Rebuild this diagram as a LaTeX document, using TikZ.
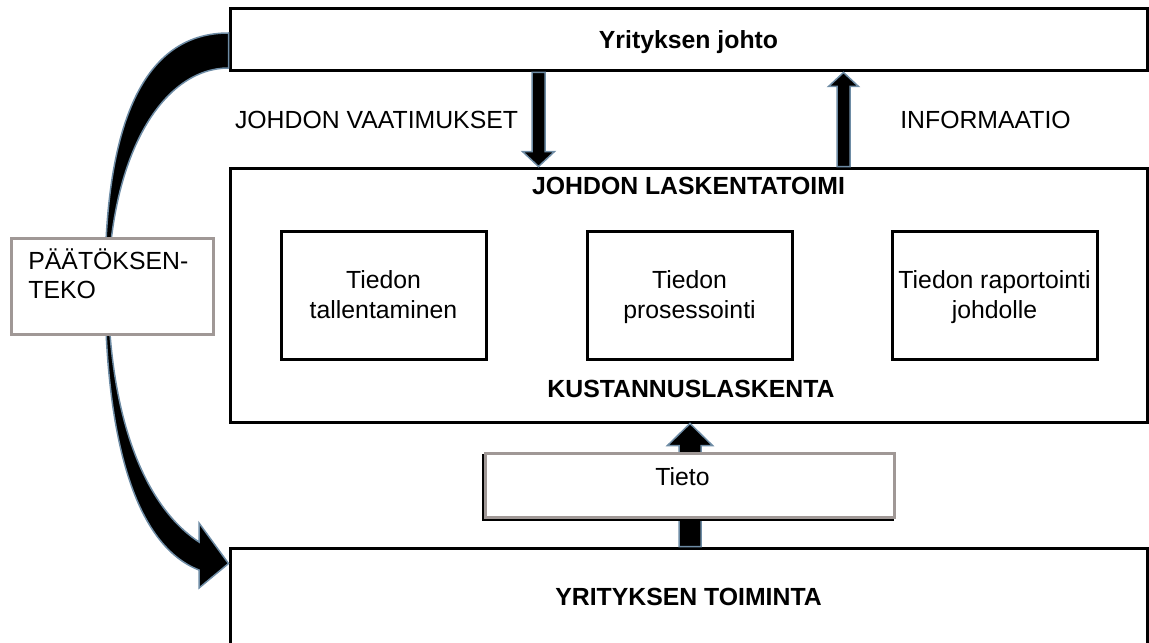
\documentclass[tikz,border=0pt]{standalone}
\usepackage{fontspec}
\setmainfont{Liberation Sans}
\usetikzlibrary{calc}

\definecolor{arrowedge}{RGB}{110,140,165}
\definecolor{boxgray}{RGB}{160,152,150}
\newcommand{\lstrut}{\rule[-3.5pt]{0pt}{15.3pt}}

\tikzset{
  mainbox/.style={draw, line width=1.5pt, minimum width=458.5pt, inner sep=0pt},
  stepbox/.style={draw, line width=1.5pt, minimum width=102.5pt, minimum height=64pt, inner sep=0pt, align=center},
  graybox/.style={draw=boxgray, fill=white, line width=1.5pt, inner sep=0pt},
  barrow/.style n args={3}{fill=black, draw=arrowedge, line width=0.75pt,
    to path={let \p1=(\tikztostart), \p2=(\tikztotarget), \p3=($(\tikztotarget)!#3!(\tikztostart)$) in
      (\x1-#1,\y1) -- (\x1-#1,\y3) -- (\x1-#2,\y3) -- (\x2,\y2) -- (\x1+#2,\y3) -- (\x1+#1,\y3) -- (\x1+#1,\y1) -- cycle}}
}

\begin{document}
\begin{tikzpicture}[x=0.5pt, y=-0.5pt, node font=\fontsize{12.4}{15.3}\selectfont]
  \useasboundingbox (0,0) rectangle (1149,642);
  \clip (0,0) rectangle (1149,642);

  % boxes
  \node[mainbox, minimum height=31pt, text height=11pt, text depth=2.6pt, font=\bfseries] (top) at (688.5,40) {Yrityksen johto};
  \node[mainbox, minimum height=127pt] (mid) at (688.5,295) {};
  \node[font=\bfseries] (lask) at (688.5,185.5) {JOHDON LASKENTATOIMI};
  \node[font=\bfseries] (kust) at (691,389) {KUSTANNUSLASKENTA};
  \node[stepbox] (tall) at (383.5,295) {\lstrut Tiedon\\\lstrut tallentaminen};
  \node[stepbox] (proc) at (689.5,295) {\lstrut Tiedon\\\lstrut prosessointi};
  \node[stepbox] (rap) at (994.5,295) {\lstrut Tiedon raportointi\\\lstrut johdolle};
  \node[mainbox, minimum height=49pt, font=\bfseries] (act) at (688.5,597) {YRITYKSEN TOIMINTA};

  \node (req) at (376.5,120) {JOHDON VAATIMUKSET};
  \node (inf) at (985.5,120) {INFORMAATIO};

  % decision arrow
  \filldraw[fill=black, draw=arrowedge, line width=0.75pt]
    ($(top.west)+(0,-7)$) .. controls (150,33) and (104,110) .. (105,290)
    .. controls (106,440) and (135,545) .. (199,570) -- (199,588) -- ($(act.north west)+(0,17)$)
    -- (199,523) -- (199,542) .. controls (150,510) and (110,430) .. (108,290)
    .. controls (110,150) and (165,68) .. ($(top.west)+(0,28)$) -- cycle;
  \node[graybox, minimum width=101pt, minimum height=48pt,
        label={[anchor=north west, align=left, inner sep=0pt, xshift=9.25pt, yshift=-6pt,
                font=\fontsize{12.4}{14.5}\selectfont]north west:PÄÄTÖKSEN-\\TEKO}] (paat) at (112,286) {};

  % block arrows
  \coordinate (reqx) at (538.5,0);
  \coordinate (infx) at (843.5,0);
  \coordinate (tietox) at (690,0);
  \draw[barrow={3.25pt}{8pt}{7.5pt}] (top.south -| reqx) to (mid.north -| reqx);
  \draw[barrow={3.25pt}{7.5pt}{7pt}] (mid.north -| infx) to (top.south -| infx);
  \draw[barrow={5.5pt}{11.25pt}{11pt}] (act.north -| tietox) to (mid.south -| tietox);

  \node[graybox, minimum width=204.5pt, minimum height=32pt, text height=9pt, text depth=9pt,
        preaction={draw=black, transform canvas={shift={(-1pt,-1pt)}}}] (tieto) at (689.5,485) {\hspace*{-7pt}Tieto};
\end{tikzpicture}
\end{document}
